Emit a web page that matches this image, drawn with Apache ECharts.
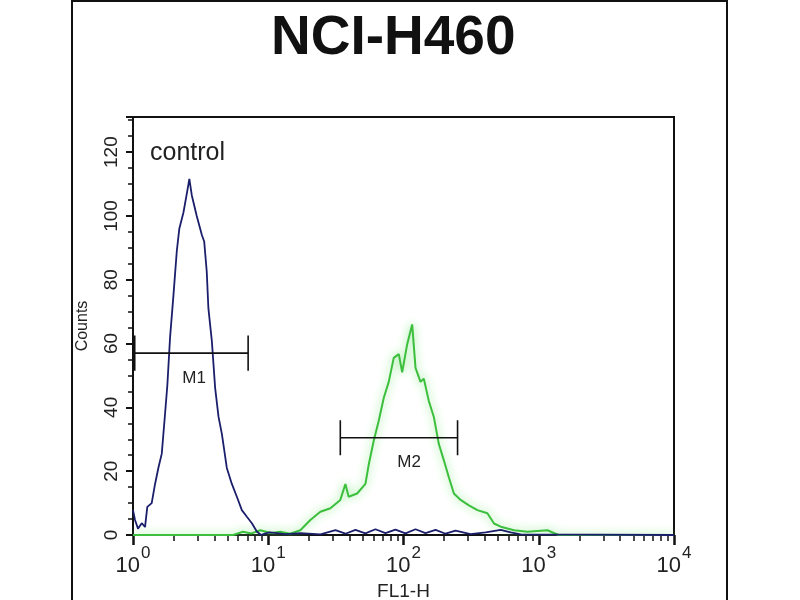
<!DOCTYPE html>
<html>
<head>
<meta charset="utf-8">
<style>
  html, body { margin: 0; padding: 0; background: #fff; }
  #chart { width: 800px; height: 600px; }
</style>
<script src="https://cdn.jsdelivr.net/npm/echarts@6/dist/echarts.min.js"></script>
</head>
<body>
<div id="chart"></div>
<script>
// control histogram (FL1-H channel value, counts)
var controlFl = [1.0, 1.035, 1.089, 1.16, 1.227, 1.276, 1.375, 1.456, 1.54, 1.632, 1.726, 1.795, 1.88, 1.99,
  2.108, 2.2, 2.358, 2.5, 2.61, 2.72, 2.96, 3.23, 3.36, 3.51, 3.61, 3.83, 4.05, 4.29, 4.54, 4.94, 5.38,
  5.86, 6.38, 6.95, 7.57, 8.25, 8.87, 9.5, 10.3, 13.4, 17.3, 24.3, 31.4, 37.2, 44.1, 52.3, 62, 73.6,
  87.2, 103.5, 122.7, 145.5, 172.6, 204.7, 242.7, 313, 405, 523, 620, 736, 10000];
var controlCounts = [7.8, 4.7, 2, 3.7, 2.5, 8.8, 10, 16, 21, 25.5, 38, 47, 62, 75,
  89, 96, 101, 107, 111.6, 106.5, 100, 94, 92, 82.5, 71, 60.7, 46, 37, 31.7, 21, 16,
  12, 7.8, 5.7, 3.7, 1, 0, 0.5, 0.8, 0.3, 0.6, 0.2, 1.5, 0.4, 1.6, 0.5, 1.8, 0.6,
  1.7, 0.5, 1.8, 0.6, 1.6, 0.4, 1.4, 0.3, 0.8, 1.6, 0.8, 0.2, 0];

// stained histogram
var stainedFl = [1, 5.5, 6.5, 7.5, 8.72, 10.5, 12.27, 14.5, 17.26, 20.47, 24.28, 28.8, 34.1, 37.2, 39.3, 45.4,
  52.3, 55.3, 60.3, 65.6, 71.5, 77.8, 84.7, 92.3, 97.8, 106.5, 115.9, 122.7, 133.6, 141.3, 153.9,
  167.6, 182.5, 198.8, 216.6, 235.8, 264.4, 304.6, 351.8, 417, 466.8, 523.4, 656.6, 824.8, 1159, 1400, 10000];
var stainedCounts = [0, 0, 1, 0.5, 1.5, 0.6, 1, 0.4, 1.5, 4.7, 7.3, 8.4, 11, 16, 12, 13,
  16, 22, 29.6, 35.8, 43, 48, 55.5, 56.7, 51, 59.8, 66, 52.4, 48, 49, 42,
  37, 28.5, 23.4, 18, 13, 11, 9.3, 7.8, 6.8, 3.6, 2.6, 1.5, 1, 1.5, 0, 0];

// marker gates: name, from, to, height, label position
var gateNames = ['M1', 'M2'];
var gateFrom = [1.03, 34.1];
var gateTo = [7.1, 251];
var gateLevel = [57, 30.5];
var gateLabelFl = [2.83, 110];
var gateCap = 5.5;

var minorTicks = [2, 3, 4, 5, 6, 7, 8, 9, 20, 30, 40, 50, 60, 70, 80, 90,
  200, 300, 400, 500, 600, 700, 800, 900, 2000, 3000, 4000, 5000, 6000, 7000, 8000, 9000];

var narrow = '"Liberation Sans Narrow", "Liberation Sans", Arial, sans-serif';
var sans = '"Liberation Sans", Arial, sans-serif';

function pairs(xs, ys) {
  return xs.map(function (x, i) { return [x, ys[i]]; });
}

var gateSeries = gateNames.map(function (name, i) {
  var a = gateFrom[i], b = gateTo[i], y = gateLevel[i];
  return {
    type: 'line',
    name: name,
    showSymbol: false,
    silent: true,
    z: 5,
    lineStyle: { color: '#111', width: 1.6 },
    data: [[a, y - gateCap], [a, y + gateCap], [a, y], [b, y], [b, y + gateCap], [b, y - gateCap]],
    markPoint: {
      symbol: 'circle',
      symbolSize: 1,
      itemStyle: { color: 'rgba(0,0,0,0)' },
      label: { show: true, formatter: name, offset: [0, 25], color: '#222', fontSize: 17, fontFamily: narrow },
      data: [{ coord: [gateLabelFl[i], y] }]
    }
  };
});

var chart = echarts.init(document.getElementById('chart'));
chart.setOption({
  animation: false,
  backgroundColor: '#fff',
  title: {
    text: 'NCI-H460',
    left: 266,
    top: 6,
    textStyle: { fontSize: 55, fontWeight: 'bold', fontFamily: sans, color: '#111' }
  },
  graphic: [
    {
      type: 'rect',
      shape: { x: 72, y: 1, width: 655, height: 610 },
      style: { fill: 'none', stroke: '#111', lineWidth: 2 },
      silent: true
    },
    {
      type: 'text',
      left: 150,
      top: 141,
      style: { text: 'control', fontSize: 25, fontFamily: sans, fill: '#222' },
      silent: true
    }
  ],
  grid: {
    left: 133, right: 126, top: 117, bottom: 65,
    outerBoundsMode: 'none',
    containLabel: false,
    show: true, borderColor: '#111', borderWidth: 2, backgroundColor: 'transparent'
  },
  xAxis: [
    {
      type: 'log',
      logBase: 10,
      min: 1,
      max: 10000,
      name: 'FL1-H',
      nameLocation: 'middle',
      nameGap: 39,
      nameTextStyle: { fontSize: 19, fontFamily: narrow, color: '#222' },
      axisLine: { lineStyle: { color: '#111', width: 2 } },
      axisTick: { length: 10, lineStyle: { color: '#111', width: 2.5 } },
      splitLine: { show: false },
      axisLabel: {
        margin: 10,
        formatter: function (v) {
          return '{b|10}{s|' + Math.round(Math.log10(v)) + '}';
        },
        rich: {
          b: { fontSize: 22, fontFamily: narrow, color: '#222', padding: [10, 0, 0, 0] },
          s: { fontSize: 17, fontFamily: narrow, color: '#222', verticalAlign: 'top', padding: [0, 0, 0, 1] }
        }
      }
    },
    {
      type: 'log',
      logBase: 10,
      min: 1,
      max: 10000,
      position: 'bottom',
      axisLine: { show: false },
      axisLabel: { show: false },
      splitLine: { show: false },
      axisTick: { show: true, length: 6, customValues: minorTicks, lineStyle: { color: '#111', width: 1.5 } }
    }
  ],
  yAxis: {
    type: 'value',
    min: 0,
    max: 131,
    interval: 20,
    name: 'Counts',
    nameLocation: 'middle',
    nameGap: 42,
    nameTextStyle: { fontSize: 16, fontFamily: narrow, color: '#222' },
    axisLine: { lineStyle: { color: '#111', width: 2 } },
    axisTick: { length: 7, lineStyle: { color: '#111', width: 2 } },
    minorTick: { show: true, splitNumber: 4, length: 5, lineStyle: { color: '#111', width: 1.5 } },
    splitLine: { show: false },
    axisLabel: {
      rotate: 90,
      margin: 12,
      fontSize: 19,
      fontFamily: sans,
      color: '#222',
      formatter: function (v) { return v % 20 === 0 ? String(v) : ''; }
    }
  },
  series: [
    {
      type: 'line',
      name: 'stained',
      showSymbol: false,
      silent: true,
      z: 3,
      data: pairs(stainedFl, stainedCounts),
      lineStyle: { color: '#3cbf3c', width: 2, shadowBlur: 10, shadowColor: 'rgba(120,230,120,1)' }
    },
    {
      type: 'line',
      name: 'control',
      showSymbol: false,
      silent: true,
      z: 4,
      data: pairs(controlFl, controlCounts),
      lineStyle: { color: '#1b1f6b', width: 1.8 }
    }
  ].concat(gateSeries)
});
</script>
</body>
</html>
